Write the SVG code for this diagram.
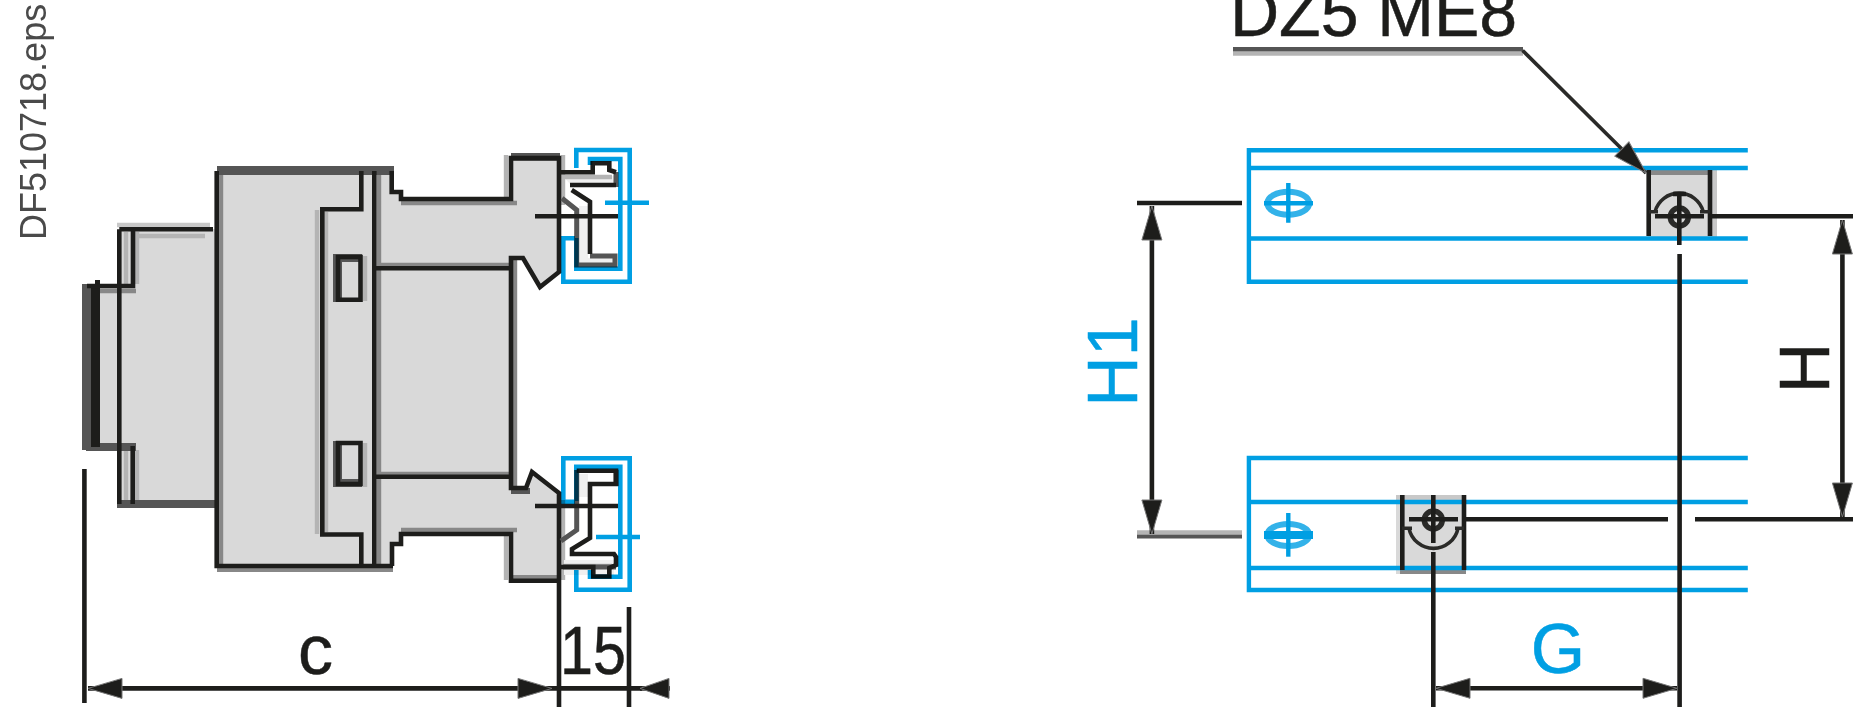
<svg xmlns="http://www.w3.org/2000/svg" width="1853" height="718" viewBox="0 0 1853 718">
<style>
.bg{fill:#fff}
.fill{fill:#d9d9d9}
.k{fill:none;stroke:#1d1d1b;stroke-width:4.6}
.k3{fill:none;stroke:#2a2a28;stroke-width:3.6}
.dot{fill:none;stroke:#2a2a28;stroke-width:5.5}
.dk{fill:none;stroke:#555;stroke-width:5}
.g8{fill:none;stroke:#888;stroke-width:4.4}
.gb{fill:none;stroke:#b4b4b4;stroke-width:4.4}
.gc{fill:none;stroke:#c8c8c8;stroke-width:4.4}
.b{fill:none;stroke:#009fe3;stroke-width:4.4}
.bm{fill:none;stroke:#009fe3;stroke-width:4.6;mix-blend-mode:multiply}
.t{font-family:"Liberation Sans",Arial,sans-serif;font-size:70px;fill:#1d1d1b;stroke:#1d1d1b;stroke-width:.5}
.t2{font-size:68px}
.tb{fill:#009fe3;stroke:#009fe3}
.id{font-size:36px;fill:#4a4a4a;stroke:none}
.ah{fill:#1d1d1b;stroke:#777;stroke-width:1}
</style>
<defs>
<marker id="tipS" markerUnits="userSpaceOnUse" markerWidth="38" markerHeight="24" viewBox="0 0 38 24" refX="1" refY="12" orient="auto"><path class="ah" d="M1 12 L35 2 V22Z"/></marker>
<marker id="tipE" markerUnits="userSpaceOnUse" markerWidth="38" markerHeight="24" viewBox="0 0 38 24" refX="37" refY="12" orient="auto"><path class="ah" d="M37 12 L3 2 V22Z"/></marker>
<marker id="tipShort" markerUnits="userSpaceOnUse" markerWidth="32" markerHeight="24" viewBox="0 0 32 24" refX="31" refY="12" orient="auto"><path class="ah" d="M31 12 L2 2 V22Z"/></marker>
</defs>
<rect class="bg" width="1853" height="718"/>
<text id="ref-code" class="t id" transform="translate(46 240) rotate(-90)">DF510718.eps</text>

<g id="side-view">
<path class="fill" d="M100 286H120V229H217V171H393V192H401V199H511V155H559V272L540 287L523 257H511V488H528L532 472L559 493V581H511V534H401V544H393V566H217V506H120V446H100Z"/>
<path d="M82 284H91V450H82Z" fill="#555"/>
<path class="gc" d="M117 225H210"/>
<path class="gb" d="M133 236H205M126 232V285M126 450V500M137 232V284M137 450V500"/>
<path class="g8" d="M221 173V566M92 291H136M379 173V566M378 265H511M378 474H511M401 203H517M401 530H517M515 258V488"/>
<path class="gb" d="M317 210V534M326 212V532M365 256V301M365 443V487M506 155V198M506 534V580"/>
<path class="gb" d="M563 155V205M563 500V580"/>
<path d="M117 500H216V508H117ZM86 443H136V451H86ZM217 166H394V175H217Z" fill="#555"/>
<path d="M217 566H393V572H217Z" fill="#888"/>
<path d="M511 153H560V161H511ZM511 488H530V494H511Z" fill="#555"/>
<path d="M511 575H560V579H511Z" fill="#888"/>
<path d="M333 254H342V302H333ZM333 254H362V262H333ZM333 441H342V487H333ZM333 479H362V487H333Z" fill="#555"/>
<path d="M95 280H100V447H91V286H95Z" fill="#1d1d1b"/>
<path class="k" d="M87 286H133V229.300M119.300 229.300V504M119.300 229.300H213M132.700 446V504"/>
<path class="k" d="M216.700 171V566H393M361.300 171V209.300H322.300V534.500H361.300V566M374.300 171V566"/>
<path class="k" d="M391.700 171V192H401V199H511V158H559V272L540 287L523 258H511V488H526L532 472L559 493V707M559 580.700H511V534H401V544H392V566M376 268.300H511M376 476.700H511"/>
<path class="k" d="M338 257H360.500V299.800H338ZM338 443H360.500V484H338Z"/>
</g>

<g id="terminal-top">
<path d="M563 176H614V184H570ZM579 206H588V258H614V263H579Z" fill="#f0f0f0"/>
<path class="gb" d="M563 177H612"/>
<path class="dk" d="M616 172V187M562 198.300L576.700 210V265H615V256H590"/>
<path class="k" d="M561 172.300H592.700V163.300H609.300V170L616 172.300M616 185H570M571.700 190L590 201.700V254"/>
<path class="bm" d="M576.300 168V150H629.700V281.700H563.300V238.300H575M590 165V159H620.300V268.700H576.300V238M605 202.700H649"/>
<path class="k" d="M535 216.300H618"/>
</g>

<g id="terminal-bottom">
<path d="M579 474H588V497H579ZM564 560V575H614V560Z" fill="#f0f0f0"/>
<path class="gb" d="M563 566H612"/>
<path class="dk" d="M616 470V486M576.700 470V530L561 541M563 567H616"/>
<path class="k" d="M576.700 470.700H616V484H590V538L572 549V554H614L616 557V565L609.300 568V576.500H593.300V567H561"/>
<path class="bm" d="M576.300 570V589.700H629.700V458.300H563.300V501.700H575M590 570V576.700H620.300V466.700H576.300V501M596 537H640"/>
<path class="k" d="M535 506H618"/>
</g>

<g id="rail-top">
<rect class="fill" x="1648" y="170" width="65" height="67"/>
<path d="M1651 170H1708V175H1651Z" fill="#888"/>
<path d="M1712 170H1717V237H1712Z" fill="#c8c8c8"/>
<path class="b" d="M1747.800 150.300H1248.900V238.500H1747.800M1248.900 168H1747.800M1248.900 238.500V281.700H1747.800"/>
<path class="k" d="M1648.700 170V236M1710 170V236"/>
<path class="k3" d="M1655 211.700A25 25 0 0 1 1703.300 211.700M1649 211.700H1658M1700 211.700H1710"/>
<circle class="dot" cx="1679.300" cy="217" r="9"/>
<path class="k" d="M1673 194H1686M1655 216.300H1704"/>
</g>

<g id="rail-bottom">
<rect class="fill" x="1396" y="495" width="70" height="79"/>
<path d="M1396 495H1466V500H1396Z" fill="#c8c8c8"/>
<path d="M1400 570H1466V574H1400Z" fill="#888"/>
<path class="b" d="M1747.800 458H1248.900V568H1747.800M1248.900 502H1747.800M1248.900 568V590H1747.800"/>
<path class="k" d="M1402.300 495V570M1464 495V570"/>
<path class="k3" d="M1409 528.300A25 25 0 0 0 1458 528.300M1402 528.300H1412M1455 528.300H1464"/>
<circle class="dot" cx="1433.300" cy="520" r="9"/>
<path class="k" d="M1409 519.300H1458"/>
</g>

<g id="hole-top"><ellipse class="b" cx="1288.300" cy="203.300" rx="21" ry="11.500" stroke-opacity=".8" style="stroke-width:6"/><path class="b" d="M1264 203.300H1313M1288.300 183V222.700"/></g>
<g id="hole-bottom"><ellipse class="b" cx="1288.300" cy="535" rx="21" ry="11" stroke-opacity=".8" style="stroke-width:6"/><path d="M1264 531H1313V539H1264Z" fill="#009fe3"/><path class="b" d="M1288.300 513V556.700"/></g>

<g id="connectors">
<path class="k" d="M84.400 469V703M629 607V707"/>
<path class="k" marker-start="url(#tipS)" marker-end="url(#tipE)" d="M88 688.400H552"/>
<path class="k" d="M552 688.400H642"/>
<path class="k" marker-end="url(#tipShort)" d="M670 688.400H640"/>
<path class="dk" d="M1233 49.500H1523"/>
<path class="gb" d="M1233 53.500H1523" stroke-width="3"/>
<path class="k3" marker-end="url(#tipE)" d="M1522.600 50.500L1646 173"/>
<path class="k" d="M1137 203H1242"/>
<path class="dk" d="M1137 536H1242"/>
<path class="gb" d="M1137 532.500H1242" stroke-width="3"/>
<path class="k" marker-start="url(#tipS)" marker-end="url(#tipE)" d="M1151.900 206V534"/>
<path class="k" d="M1679.300 196V245M1679.600 254V707M1433.300 495V543M1433.300 552V707"/>
<path class="k" d="M1710 216.300H1853M1466 519.300H1668M1695 519.300H1853"/>
<path class="k" marker-start="url(#tipS)" marker-end="url(#tipE)" d="M1842.400 220V517"/>
<path class="k" marker-start="url(#tipS)" marker-end="url(#tipE)" d="M1436 688.300H1677"/>
</g>

<text id="label-c" class="t" x="298" y="674">c</text>
<text id="label-15" class="t t2" x="560" y="674" textLength="66" lengthAdjust="spacingAndGlyphs">15</text>
<text id="label-dz5" class="t t2" x="1230" y="36">DZ5 ME8</text>
<text id="label-h1" class="t tb" text-anchor="middle" transform="translate(1137 362) rotate(-90)">H1</text>
<text id="label-h" class="t" text-anchor="middle" transform="translate(1829 368) rotate(-90)">H</text>
<text id="label-g" class="t tb" text-anchor="middle" x="1558" y="673">G</text>
</svg>
